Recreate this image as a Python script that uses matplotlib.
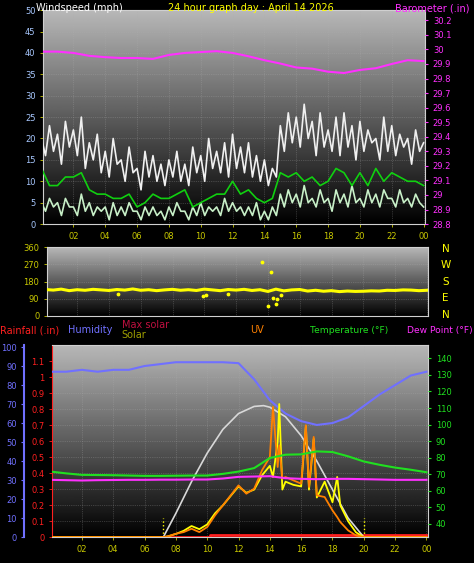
import numpy as np
import matplotlib
matplotlib.use("Agg")
import matplotlib.pyplot as plt

# ---- data ----
hours_q = np.arange(97) * 0.25
hours_h = np.arange(49) * 0.5
hours = np.arange(25)

gust = [20, 16, 23, 17, 21, 14, 24, 18, 22, 16, 25, 13, 19, 15, 21, 12,
        17, 11, 20, 14, 15, 10, 18, 12, 13, 8, 17, 11, 16, 10, 14, 9,
        15, 11, 17, 10, 14, 9, 18, 12, 16, 10, 20, 13, 17, 12, 19, 11,
        21, 13, 18, 12, 19, 11, 16, 10, 15, 9, 13, 11, 23, 17, 26, 19,
        25, 18, 28, 20, 24, 16, 26, 18, 22, 17, 25, 16, 26, 18, 23, 15,
        24, 17, 22, 19, 20, 15, 25, 17, 23, 16, 21, 18, 20, 14, 22, 17, 19]
wind_avg = [5, 3, 6, 4, 5, 2, 6, 4, 4, 2, 7, 3, 5, 2, 4, 3,
            4, 1, 5, 2, 4, 2, 5, 3, 3, 1, 4, 2, 4, 2, 3, 1,
            4, 2, 5, 3, 3, 1, 4, 2, 5, 2, 4, 3, 4, 2, 6, 3,
            5, 3, 4, 2, 4, 2, 5, 1, 3, 1, 4, 2, 7, 4, 8, 5,
            7, 4, 9, 5, 6, 4, 8, 5, 6, 3, 8, 5, 7, 4, 9, 5,
            6, 4, 8, 5, 7, 4, 8, 6, 6, 4, 8, 5, 6, 4, 7, 5, 4]
wind_10min = [13, 9, 9, 11, 11, 12, 8, 7, 7, 6, 6, 7, 4, 5, 7, 6, 6, 7, 8, 4,
              5, 6, 7, 7, 10, 7, 8, 6, 5, 6, 12, 11, 12, 10, 11, 9, 10, 13, 12,
              9, 12, 9, 13, 10, 12, 11, 10, 10, 9]
baro = [29.985, 29.985, 29.976, 29.956, 29.947, 29.941, 29.941, 29.935, 29.962,
        29.976, 29.982, 29.988, 29.976, 29.953, 29.926, 29.903, 29.876, 29.868,
        29.847, 29.838, 29.859, 29.871, 29.900, 29.926, 29.920]

wind_dir = [138, 135, 140, 132, 137, 134, 139, 136, 133, 138, 135, 141, 134, 137,
            132, 136, 139, 134, 137, 133, 140, 136, 132, 138, 135, 139, 133, 137,
            128, 140, 131, 136, 138, 130, 134, 129, 132, 127, 130, 128, 129, 131,
            130, 134, 133, 136, 135, 132, 134]
dir_out_t = [13.6, 14.2, 14.0, 14.5, 14.3, 14.6, 14.8, 4.6, 10.1, 9.9, 11.5]
dir_out_v = [280, 230, 50, 60, 95, 90, 110, 112, 110, 105, 112]

humidity = [87, 87, 88, 87, 88, 88, 90, 91, 92, 92, 92, 92, 91.5, 83, 72, 65,
            61, 59, 60, 63, 69, 75, 80, 85, 87]
temperature = [71.6, 70.5, 69.6, 69.5, 69.4, 69.2, 69.0, 69.0, 69.1, 69.2, 69.2,
               70.2, 71.6, 73.7, 79.8, 81.8, 82.0, 83.8, 83.4, 80.8, 77.7, 75.7,
               74.0, 72.7, 71.2]
dew_point = [66.6, 66.4, 66.2, 66.4, 66.5, 66.6, 66.6, 66.7, 66.7, 66.8, 66.8,
             67.4, 68.4, 68.6, 68.8, 67.6, 67.2, 67.0, 67.2, 67.2, 67.0, 66.8,
             66.6, 66.6, 66.6]
max_solar_t = [7.2, 8, 9, 10, 11, 12, 13, 13.6, 14, 15, 16, 17, 18, 19, 20]
max_solar = [0, 150, 350, 530, 680, 780, 825, 830, 820, 760, 640, 480, 300, 120, 0]
solar_t = [0, 7.2, 7.5, 8, 8.5, 9, 9.5, 10, 10.5, 11, 11.5, 12, 12.5, 13, 13.5,
           14, 14.2, 14.5, 14.6, 14.8, 15, 15.5, 16, 16.3, 16.5, 16.8, 17, 17.5,
           18, 18.3, 18.5, 19, 19.5, 20, 24]
solar = [0, 0, 5, 20, 40, 70, 50, 80, 150, 200, 260, 320, 280, 300, 390,
         450, 380, 600, 840, 300, 350, 330, 320, 700, 300, 620, 250, 350,
         220, 380, 200, 100, 30, 0, 0]
uv = [0, 0, 0.05, 0.2, 0.3, 0.5, 0.3, 0.6, 1.3, 1.9, 2.5, 3.1, 2.6, 2.9, 4.0,
      4.8, 7.8, 4.2, 5.5, 3.5, 3.6, 3.4, 3.2, 6.7, 3.0, 6.0, 2.5, 2.4,
      1.6, 1.2, 0.9, 0.4, 0.1, 0, 0]
rain_t = [0, 10.2, 10.2, 24]
rain = [0, 0, 0.012, 0.012]

xtick_pos = list(range(2, 25, 2))
xtick_lab = ["02", "04", "06", "08", "10", "12", "14", "16", "18", "20", "22", "00"]

TICKC = "#c8c800"
HUMC = "#7070ff"
MAGC = "#ff30ff"
FS = 7

fig = plt.figure(figsize=(4.74, 5.63), dpi=100)
fig.patch.set_facecolor("black")


def panel(rect):
    ax = fig.add_axes(rect)
    ax.set_facecolor("black")
    grad = np.linspace(0.72, 0.0, 200).reshape(-1, 1)
    ax.imshow(grad, cmap="gray", vmin=0, vmax=1, aspect="auto",
              extent=[0, 1, 0, 1], transform=ax.transAxes, zorder=0)
    ax.set_xlim(0.1, 24.1)
    ax.set_xticks(xtick_pos)
    ax.grid(True, color="#b0b0b0", linestyle=":", linewidth=0.5, alpha=0.5)
    for s in ax.spines.values():
        s.set_color("#d0d0d0")
    ax.tick_params(colors=TICKC, labelsize=6, length=2, width=0.6)
    return ax


# top panel: wind + barometer
ax1 = panel([0.091, 0.602, 0.806, 0.380])
ax1.set_ylim(0, 50)
ax1.set_yticks(range(0, 51, 5))
ax1.tick_params(axis="y", labelcolor="#a8c8ff")
ax1.set_xticklabels(xtick_lab)
ax1.plot(hours_q, gust, color="#f0f0f0", lw=1.2, zorder=3)
ax1.plot(hours_q, wind_avg, color="#c8f0c8", lw=1.2, zorder=4)
ax1.plot(hours_h, wind_10min, color="#10d010", lw=1.2, zorder=5)
ax1b = ax1.twinx()
ax1b.set_ylim(28.8, 30.27)
baro_ticks = np.round(np.arange(28.8, 30.25, 0.1), 1)
ax1b.set_yticks(baro_ticks)
ax1b.set_yticklabels([f"{v:g}" for v in baro_ticks])
ax1b.tick_params(colors=MAGC, labelsize=6, length=2)
for s in ax1b.spines.values():
    s.set_visible(False)
ax1b.plot(hours, baro, color=MAGC, lw=1.5)

fig.text(0.075, 0.98, "Windspeed (mph)", color="white", fontsize=FS)
fig.text(0.53, 0.98, "24 hour graph day : April 14 2026", color="#ffff00",
         fontsize=FS, ha="center")
fig.text(0.99, 0.98, "Barometer (.in)", color=MAGC, fontsize=FS, ha="right")

# middle panel: wind direction
ax2 = panel([0.099, 0.439, 0.805, 0.122])
ax2.set_ylim(0, 360)
ax2.set_yticks([0, 90, 180, 270, 360])
ax2.set_xticklabels([])
ax2.tick_params(axis="x", length=0)
ax2.plot(hours_h, wind_dir, color="#ffff00", lw=2.2, zorder=3)
ax2.scatter(dir_out_t, dir_out_v, s=3, color="#ffff00", zorder=4)
for i, c in enumerate("NWSEN"):
    fig.text(0.94, 0.553 - i * 0.0295, c, color="#ffff00", fontsize=FS + 0.5, ha="center")

# bottom panel
ax3 = panel([0.110, 0.046, 0.793, 0.341])
ax3.set_ylim(0, 1.2)
rain_ticks = np.round(np.arange(0, 1.15, 0.1), 1)
ax3.set_yticks(rain_ticks)
ax3.set_yticklabels([f"{v:g}" for v in rain_ticks])
ax3.tick_params(axis="y", labelcolor="#ff2020", colors="#ff2020")
ax3.set_xticklabels(xtick_lab)
ax3.spines["left"].set_color("#ff2020")

axh = ax3.twinx()
axh.set_ylim(0, 101)
axh.set_yticks(range(0, 101, 10))
axh.spines["left"].set_position(("outward", 20))
axh.spines["left"].set_visible(True)
axh.spines["left"].set_color(HUMC)
axh.spines["left"].set_linewidth(1.5)
axh.spines["right"].set_visible(False)
axh.spines["top"].set_visible(False)
axh.spines["bottom"].set_visible(False)
axh.yaxis.set_ticks_position("left")
axh.tick_params(colors=HUMC, labelsize=6, length=2)

axs = ax3.twinx()
axs.set_ylim(0, 1212)
axs.axis("off")
axu = ax3.twinx()
axu.set_ylim(0, 11.5)
axu.axis("off")

axt = ax3.twinx()
axt.set_ylim(32, 148)
axt.set_yticks(range(40, 141, 10))
axt.tick_params(colors="#20e020", labelsize=6, length=2)
for s in axt.spines.values():
    s.set_visible(False)

axs.plot(max_solar_t, max_solar, color="#d8d8d8", lw=1.2, zorder=2)
axu.plot(solar_t, uv, color="#ff8000", lw=1.3, zorder=3)
axs.plot(solar_t, solar, color="#ffff00", lw=1.3, zorder=4)
axh.plot(hours, humidity, color=HUMC, lw=1.5)
axt.plot(hours, temperature, color="#20e020", lw=1.5)
axt.plot(hours, dew_point, color=MAGC, lw=1.5)
ax3.plot(rain_t, rain, color="#ff2020", lw=2, zorder=5)
ax3.vlines([7.2, 20], 0, 0.12, colors="#ffff00", linestyles=":", lw=1, zorder=6)

fig.text(0.0, 0.408, "Rainfall (.in)", color="#ff2020", fontsize=FS)
fig.text(0.143, 0.408, "Humidity", color=HUMC, fontsize=FS)
fig.text(0.257, 0.417, "Max solar", color="#c01040", fontsize=FS)
fig.text(0.257, 0.400, "Solar", color="#a0a000", fontsize=FS)
fig.text(0.527, 0.408, "UV", color="#ff8000", fontsize=FS)
fig.text(0.655, 0.408, "Temperature (°F)", color="#20e020", fontsize=6.6)
fig.text(0.998, 0.408, "Dew Point (°F)", color=MAGC, fontsize=6.6, ha="right")

fig.savefig("out.png", dpi=100, facecolor="black")
